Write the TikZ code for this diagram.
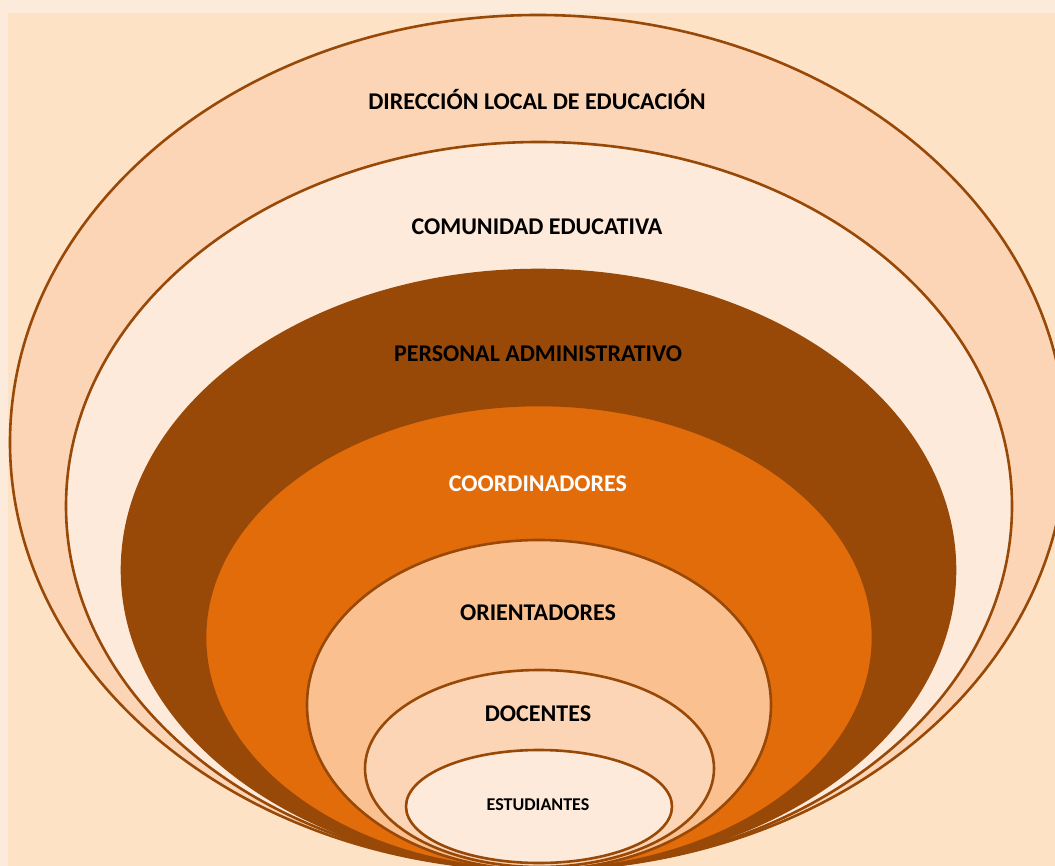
\documentclass[tikz,border=0pt]{standalone}
\usepackage{fontspec}
\setmainfont{Carlito}
\definecolor{strip}{HTML}{FCEADB}
\definecolor{bgin}{HTML}{FDE2C6}
\definecolor{ring}{HTML}{984807}
\definecolor{peachA}{HTML}{FBD5B5}
\definecolor{peachB}{HTML}{FDEADA}
\definecolor{orangeC}{HTML}{E36C0A}
\definecolor{peachD}{HTML}{FAC090}
\tikzset{
  layer/.style={draw=ring, line width=2.6pt},
  lbl/.style={font=\bfseries\fontsize{24}{28}\selectfont, text=black, inner sep=0pt},
}
\begin{document}
\begin{tikzpicture}[x=1pt,y=-1pt]
\useasboundingbox (0,0) rectangle (1055,866);
\clip (0,0) rectangle (1055,866);
\fill[strip] (0,0) rectangle (1055,866);
\fill[bgin] (8,13) rectangle (1060,870);
\draw[layer, fill=peachA] (538,442.5) ellipse [x radius=528pt, y radius=427.5pt];
\draw[layer, fill=peachB] (539,506) ellipse [x radius=473pt, y radius=364pt];
\draw[layer, fill=ring] (538.5,570) ellipse [x radius=416.5pt, y radius=300pt];
\draw[layer, fill=orangeC] (539,637.5) ellipse [x radius=334pt, y radius=232.5pt];
\draw[layer, fill=peachD] (539,705) ellipse [x radius=232pt, y radius=165pt];
\draw[layer, fill=peachA] (539.5,768.5) ellipse [x radius=174.5pt, y radius=98.5pt];
\draw[layer, fill=peachB] (539,806.5) ellipse [x radius=133pt, y radius=56.5pt];
\node[lbl] (t1) at (537,100) {DIRECCIÓN LOCAL DE EDUCACIÓN};
\node[lbl] (t2) at (537,227) {COMUNIDAD EDUCATIVA};
\node[lbl] (t3) at (538,354) {PERSONAL ADMINISTRATIVO};
\node[lbl, text=white] (t4) at (538,484) {COORDINADORES};
\node[lbl] (t5) at (538,613) {ORIENTADORES};
\node[lbl] (t6) at (538,714) {DOCENTES};
\node[lbl, font=\bfseries\fontsize{18}{20}\selectfont] (t7) at (538,805) {ESTUDIANTES};
\end{tikzpicture}
\end{document}
